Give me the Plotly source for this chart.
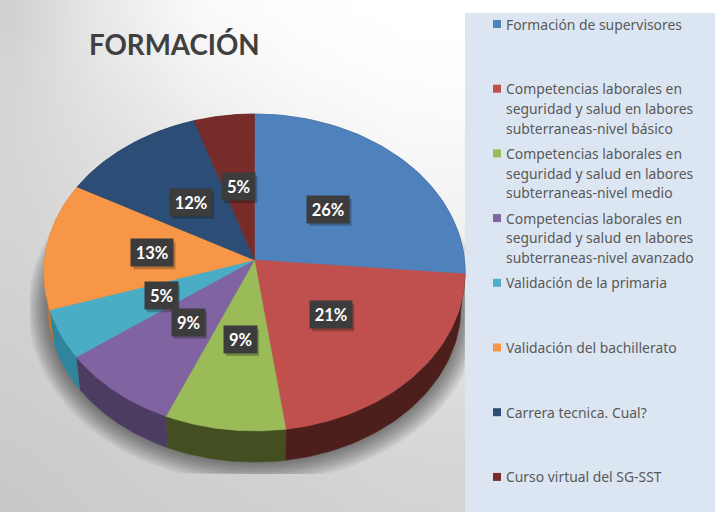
"""FORMACIÓN: faux-3D pie, drawn as filled scatter polygons because go.Pie cannot tilt."""

import numpy as np
import plotly.graph_objects as go

CATEGORIES = [
    ["Formación de supervisores"],
    ["Competencias laborales en", "seguridad y salud en labores", "subterraneas-nivel básico"],
    ["Competencias laborales en", "seguridad y salud en labores", "subterraneas-nivel medio"],
    ["Competencias laborales en", "seguridad y salud en labores", "subterraneas-nivel avanzado"],
    ["Validación de la primaria"],
    ["Validación del bachillerato"],
    ["Carrera tecnica. Cual?"],
    ["Curso virtual del SG-SST"],
]
VALUES = [26.4, 21.4, 8.6, 8.6, 5, 13, 12, 5]
COLORS = ["#4f81bd", "#c0504d", "#9bbb59", "#8064a2", "#4bacc6", "#f79646", "#2c4d75", "#772c2a"]
WALL_COLORS = ["#2f4d71", "#4d1f1c", "#434f20", "#4d3c62", "#2f869c", "#c9752c", "#1a2e46", "#471a19"]

BG_X = [12, 100, 200, 300, 400, 500, 715]
BG_Y = [10, 60, 130, 230, 330, 430, 512]
BG_Z = [
    [208, 232, 250, 254, 255, 255, 255],
    [212, 230, 244, 251, 254, 254, 255],
    [214, 224, 236, 244, 249, 250, 252],
    [212, 218, 226, 234, 240, 240, 244],
    [208, 212, 216, 222, 228, 228, 232],
    [204, 206, 209, 212, 216, 216, 218],
    [200, 204, 206, 208, 211, 212, 214],
]

# pie placement in page pixels (axes run 1:1 with the window)
CX, CY = 254.5, 260
RX, RY, TILT = 210, 157.5, 0.0789
DEPTH_SCALE, DEPTH_DROP = 0.98, 34.5


def project(frac, r=1.0):
    """Clockwise fraction of the circle from 12 o'clock -> tilted page coordinates."""
    a = 2 * np.pi * np.asarray(frac, dtype=float)
    u, v = r * np.sin(a), r * np.cos(a)
    d = 1 + TILT * v
    return RX * u / d, -RY * v / d


def poly(x, y, color, name=""):
    return go.Scatter(x=x, y=y, mode="lines", fill="toself", fillcolor=color,
                      line=dict(color=color, width=0.5), hoverinfo="skip", showlegend=False, name=name)


total = sum(VALUES)
edges = np.cumsum([0] + VALUES) / total

fig = go.Figure()

# background gradient
fig.add_trace(go.Heatmap(x=BG_X, y=BG_Y, z=BG_Z, zsmooth="best", zmin=0, zmax=255, showscale=False,
                         colorscale=[[0, "#000000"], [1, "#ffffff"]], hoverinfo="skip"))

# soft shadow under the pie: stacked translucent ellipses, cut off like the original
ring = np.linspace(0, 1, 181)
for grow in range(20, 0, -2):
    rx, ry = project(ring)
    sx = CX + rx * DEPTH_SCALE * (1 + grow / 206)
    sy = CY + DEPTH_DROP + ry * DEPTH_SCALE * (1 + grow / 158)
    fig.add_trace(go.Scatter(x=np.clip(sx, 30, 465), y=np.clip(sy, 0, 474), mode="lines", fill="toself",
                             fillcolor="rgba(0,0,0,0.05)", line=dict(width=0), hoverinfo="skip", showlegend=False))

# legend panel
fig.add_trace(go.Scatter(x=[465, 715, 715, 465], y=[13, 13, 512, 512], mode="lines", fill="toself",
                         fillcolor="#dce6f2", line=dict(width=0), hoverinfo="skip", showlegend=False))

# side walls, then top faces
for i in range(len(VALUES)):
    fr = np.linspace(edges[i], edges[i + 1], 60)
    x, y = project(fr)
    bx = x * DEPTH_SCALE
    by = y * DEPTH_SCALE + DEPTH_DROP
    fig.add_trace(poly(CX + np.r_[x, bx[::-1]], CY + np.r_[y, by[::-1]], WALL_COLORS[i]))
for i in range(len(VALUES)):
    fr = np.linspace(edges[i], edges[i + 1], 60)
    x, y = project(fr)
    fig.add_trace(poly(CX + np.r_[0, x, 0], CY + np.r_[0, y, 0], COLORS[i]))

annotations = []
shapes = []

# data labels, each with a drop shadow rectangle
for i, val in enumerate(VALUES):
    lx, ly = project((edges[i] + edges[i + 1]) / 2, 0.49)
    text = f"{round(val / total * 100)}%"
    w = 42 if len(text) > 2 else 33
    px_, py_ = CX + lx, CY + ly
    shapes.append(dict(type="rect", layer="above", x0=px_ - w / 2 + 2, x1=px_ + w / 2 + 2, y0=py_ - 13.5 + 3,
                       y1=py_ + 13.5 + 3, fillcolor="rgba(0,0,0,0.25)", line=dict(width=0)))
    annotations.append(dict(x=px_, y=py_, xref="x", yref="y", text=text, showarrow=False, width=w, height=27,
                            borderpad=0, bgcolor="#3c3c3c",
                            font=dict(family="Lato, sans-serif", size=16.5, color="#ffffff", weight="bold")))

# legend: fixed row pitch with wrapped names, which the built-in legend can't do
row_tops = [24 + 64.7 * i for i in range(len(CATEGORIES))]
fig.add_trace(go.Scatter(x=[497] * len(COLORS), y=row_tops, mode="markers", hoverinfo="skip", showlegend=False,
                         marker=dict(symbol="square", size=8, color=COLORS)))
for top, lines in zip(row_tops, CATEGORIES):
    for j, line in enumerate(lines):
        annotations.append(dict(x=503.5, y=top + j * 19.7, xref="x", yref="y", text=line, showarrow=False,
                                xanchor="left", yanchor="middle",
                                font=dict(family="Noto Sans, sans-serif", size=13.9, color="#595959")))

annotations.append(dict(x=87, y=44, xref="x", yref="y", text="FORMACIÓN", showarrow=False, xanchor="left",
                        yanchor="middle", font=dict(family="Lato, sans-serif", size=27.7, color="#404040", weight="bold")))

fig.update_layout(
    width=715,
    height=512,
    margin=dict(l=0, r=0, t=0, b=0),
    paper_bgcolor="#ffffff",
    plot_bgcolor="#ffffff",
    showlegend=False,
    annotations=annotations,
    shapes=shapes,
    xaxis=dict(range=[0, 715], visible=False, fixedrange=True),
    yaxis=dict(range=[512, 0], visible=False, fixedrange=True),
)
fig.write_html("out.html", config={"displayModeBar": False}, post_script="document.body.style.margin = '0';")
